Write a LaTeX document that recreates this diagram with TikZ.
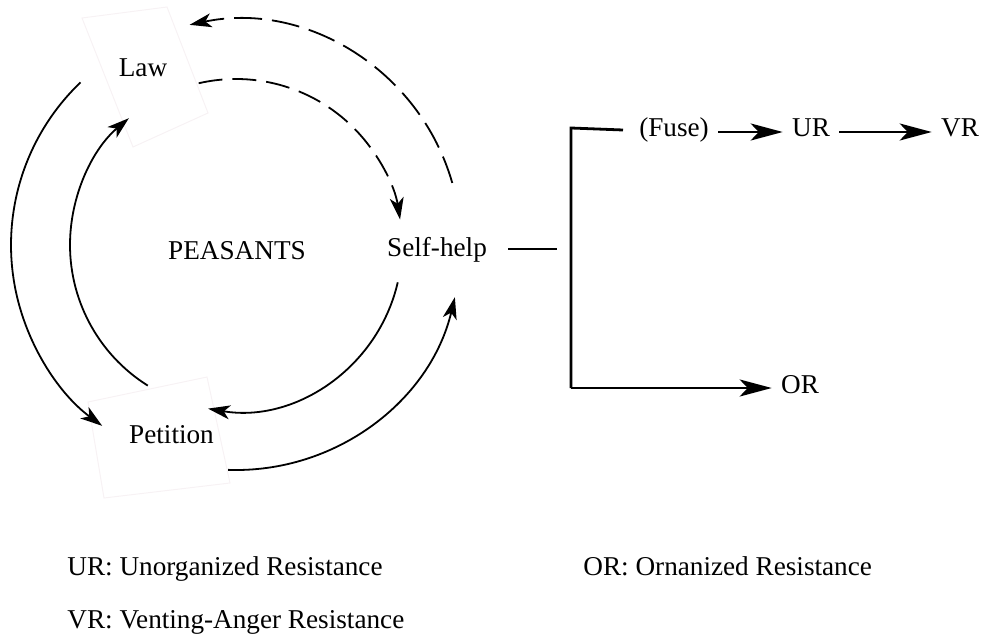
\documentclass[tikz,border=0pt]{standalone}
\usepackage{fontspec}
\setmainfont{Liberation Serif}
\usetikzlibrary{arrows.meta}
\definecolor{faintbox}{RGB}{247,242,244}
\begin{document}
\begin{tikzpicture}[x=0.5pt,y=-0.5pt,
  lbl/.style={inner sep=0pt,font=\fontsize{13.6}{16}\selectfont},
  rlbl/.style={inner sep=4.5pt,text height=0.7em,text depth=0.2em,font=\fontsize{13.6}{16}\selectfont},
  cyc/.style={line width=0.9pt,-{Stealth[length=11pt,width=7pt,inset=3pt]}},
  cycdash/.style={cyc,dash pattern=on 12pt off 5pt},
  bline/.style={line width=1.4pt},
  barrow/.style={line width=1.4pt,-{Stealth[length=16pt,width=8.5pt,inset=4pt]}},
  frame/.style={draw=faintbox,line width=0.5pt}]
\useasboundingbox (0,0) rectangle (983,636);

% faint frames behind two of the labels
\draw[frame] (82,18) -- (167,7) -- (208,113) -- (133,147) -- cycle;
\draw[frame] (88,402) -- (207,377) -- (230,483) -- (104,498) -- cycle;

% labels of the cycle
\node[lbl,anchor=base] (law)    at (143,77)  {Law};
\node[lbl,anchor=base] (peas)   at (237,259) {PEASANTS};
\node[lbl,anchor=base] (shelp)  at (437,256) {Self-help};
\node[lbl,anchor=base] (pet)    at (171.5,443) {Petition};

% centre of the two concentric rings
\coordinate (c) at (236,245);

% inner ring (radius 166)
\draw[cycdash] ([shift={(-103:166)}]c) arc[start angle=-103,end angle=-8.8,radius=166];
\draw[cyc]     ([shift={(13:166)}]c)   arc[start angle=13,end angle=99.7,radius=166];
\draw[cyc]     ([shift={(-237.9:166)}]c) arc[start angle=-237.9,end angle=-130.2,radius=166];

% outer ring (radius 225)
\draw[cyc]     ([shift={(-133.7:225)}]c) arc[start angle=-133.7,end angle=-233.5,radius=225];
\draw[cyc]     ([shift={(-268:225)}]c) arc[start angle=-268,end angle=-346.6,radius=225];
\draw[cycdash,dash pattern=on 14pt off 5pt] ([shift={(-16:225)}]c) arc[start angle=-16,end angle=-101.9,radius=225];

% branch on the right
\coordinate (stubL) at (508,249);
\coordinate (stubR) at (557,249);
\draw[bline] (stubL) -- (stubR);

\node[rlbl,anchor=base] (fuse) at (674,137) {(Fuse)};
\node[rlbl,anchor=base] (ur)   at (811,137) {UR};
\node[rlbl,anchor=base] (vr)   at (960,137) {VR};
\node[rlbl,anchor=base] (or)   at (800,393) {OR};

\coordinate (top) at (571,128);
\coordinate (fuseL) at (623,130);
\draw[bline] (fuseL) -- (top) -- (top |- or.west);
\draw[barrow] (top |- or.west) -- (or.west);
\draw[barrow] (fuse.east) -- (ur.west);
\draw[barrow] (ur.east) -- (vr.west);

% legend
\node[lbl,anchor=base west] (kur) at (67,575)  {UR: Unorganized Resistance};
\node[lbl,anchor=base west] (kvr) at (67,628)  {VR: Venting-Anger Resistance};
\node[lbl,anchor=base west] (kor) at (583,575) {OR: Ornanized Resistance};
\end{tikzpicture}
\end{document}
